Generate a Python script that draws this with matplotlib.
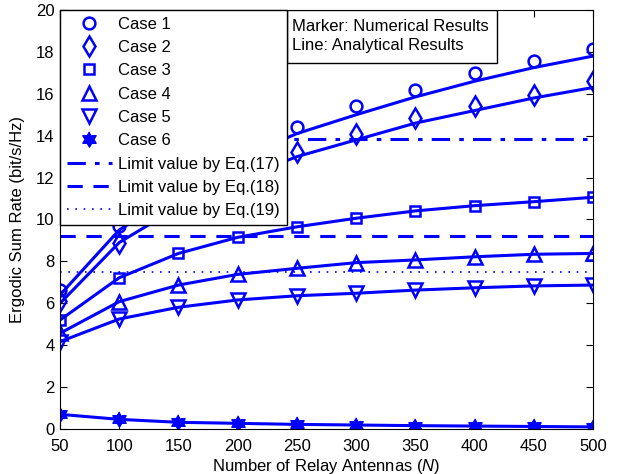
import numpy as np
import matplotlib
matplotlib.use("Agg")
import matplotlib.pyplot as plt
from matplotlib.patches import Rectangle

plt.rcParams['font.family'] = ['Liberation Sans', 'DejaVu Sans']
plt.rcParams['mathtext.fontset'] = 'custom'
plt.rcParams['mathtext.it'] = 'Liberation Sans:italic'
plt.rcParams['mathtext.rm'] = 'Liberation Sans'

N = [50, 100, 150, 200, 250, 300, 350, 400, 450, 500]

# simulated (markers)
sim1 = [6.65, 9.7, 11.8, 13.2, 14.4, 15.4, 16.2, 17.0, 17.55, 18.15]
sim2 = [6.1, 8.9, 10.8, 12.2, 13.2, 14.1, 14.85, 15.4, 15.95, 16.6]
sim3 = [5.2, 7.22, 8.38, 9.15, 9.65, 10.06, 10.41, 10.66, 10.85, 11.06]
sim4 = [4.57, 6.08, 6.87, 7.38, 7.67, 7.94, 8.07, 8.22, 8.34, 8.38]
sim5 = [4.17, 5.25, 5.81, 6.16, 6.36, 6.48, 6.63, 6.74, 6.83, 6.87]
sim6 = [0.70, 0.46, 0.32, 0.27, 0.22, 0.19, 0.16, 0.14, 0.12, 0.10]

# analytical (lines)
ana1 = [6.4, 9.5, 11.3, 12.9, 14.1, 15.0, 15.85, 16.6, 17.25, 17.8]
ana2 = [6.0, 8.9, 10.6, 11.9, 13.0, 13.8, 14.6, 15.2, 15.8, 16.3]
ana3 = sim3
ana4 = sim4
ana5 = sim5
ana6 = sim6

lim17 = 13.83
lim18 = 9.23
lim19 = 7.48

blue = '#0000ff'
fs = 12

# six-pointed star (hexagram) marker
ang = np.pi / 2 + np.arange(12) * np.pi / 6
rad = np.where(np.arange(12) % 2 == 0, 1.0, 0.577)
hexagram = np.column_stack([rad * np.cos(ang), rad * np.sin(ang)])

fig = plt.figure(figsize=(6.2, 4.74), dpi=100)
ax = fig.add_axes([60/620, 45/474, 533/620, 419/474])

for y in [ana1, ana2, ana3, ana4, ana5, ana6]:
    ax.plot(N, y, color=blue, lw=2.2)

# marker, size
styles = [('o', 8.5), ('d', 10), ('s', 7), ('^', 9.5), ('v', 9.5), (hexagram, 11)]
sims = [sim1, sim2, sim3, sim4, sim5, sim6]
handles = []
for i, (y, (m, ms)) in enumerate(zip(sims, styles)):
    filled = i == 5
    h, = ax.plot(N, y, linestyle='none', marker=m, ms=ms, color=blue,
                 mfc=blue if filled else 'none', mew=1.8 if not filled else 1.0,
                 label='Case %d' % (i + 1))
    handles.append(h)

h17 = ax.axhline(lim17, color=blue, lw=2.2, linestyle=(0, (6, 3, 1.5, 3)),
                 label='Limit value by Eq.(17)')
h18 = ax.axhline(lim18, color=blue, lw=2.2, linestyle=(0, (5, 3.5)),
                 label='Limit value by Eq.(18)')
h19 = ax.axhline(lim19, color=blue, lw=1.2, linestyle=(0, (1, 4)),
                 label='Limit value by Eq.(19)')
handles += [h17, h18, h19]

ax.set_xlim(50, 500)
ax.set_ylim(0, 20)
ax.set_xticks(N)
ax.set_yticks(range(0, 21, 2))
ax.tick_params(direction='in', top=True, right=True, labelsize=fs, length=5)
ax.tick_params(axis='x', pad=7)
ax.tick_params(axis='y', pad=4)
ax.set_xlabel('Number of Relay Antennas ($N$)', fontsize=fs, labelpad=2)
ax.set_ylabel('Ergodic Sum Rate (bit/s/Hz)', fontsize=fs, labelpad=8)

leg = ax.legend(handles=handles, loc='upper left', fontsize=fs, borderaxespad=0,
                handlelength=2.7, handletextpad=0.4, fancybox=False,
                framealpha=1, edgecolor='black', labelspacing=0.5,
                borderpad=0.4)
leg.get_frame().set_linewidth(1.0)

ax.add_patch(Rectangle((0.426, 0.8735), 0.394, 0.1265, transform=ax.transAxes,
                       facecolor='white', edgecolor='black', lw=1.0, zorder=5))
ax.text(0.435, 0.978, 'Marker: Numerical Results\nLine: Analytical Results',
        transform=ax.transAxes, va='top', ha='left', fontsize=fs,
        linespacing=1.3, zorder=6)

fig.savefig('out.png', dpi=100)
